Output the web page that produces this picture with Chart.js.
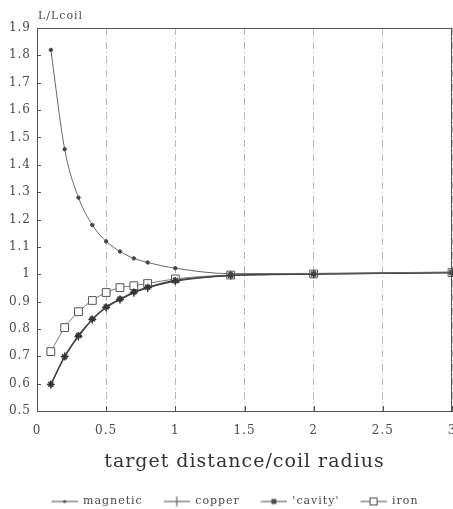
<!DOCTYPE html>
<html lang="en">
<head>
    <meta charset="UTF-8">
    <title>L/Lcoil vs target distance</title>
    <script src="https://cdn.jsdelivr.net/npm/chart.js"></script>
    <style>
        body { margin: 0; background: #ffffff; }
        .chart-box { width: 453px; height: 509px; }
    </style>
</head>
<body>
    <div class="chart-box"><canvas id="coilChart"></canvas></div>

    <script>
        // values
        const distances = [0.1, 0.2, 0.3, 0.4, 0.5, 0.6, 0.7, 0.8, 1.0, 1.4, 2, 3];
        const magnetic = [1.82, 1.457, 1.28, 1.18, 1.12, 1.083, 1.058, 1.043, 1.022, 1.002, 1.003, 1.008];
        const copper = [0.596, 0.700, 0.772, 0.834, 0.878, 0.907, 0.932, 0.950, 0.975, 0.995, 1.000, 1.006];
        const cavity = [0.598, 0.698, 0.776, 0.836, 0.880, 0.909, 0.935, 0.952, 0.977, 0.996, 1.001, 1.006];
        const iron = [0.717, 0.805, 0.863, 0.904, 0.933, 0.951, 0.958, 0.966, 0.983, 0.997, 1.001, 1.006];
        const seriesNames = ["magnetic", "copper", "'cavity'", "iron"];
        const xTicks = [0, 0.5, 1, 1.5, 2, 2.5, 3];

        const SERIF = "'DejaVu Serif', 'Liberation Serif', serif";
        const INK = "#4a4a4a";

        function pts(values) {
            return distances.map((d, i) => ({ x: d, y: values[i] }));
        }

        // legend icons: blank lead-in, then a short line with the marker in the middle
        const ICON_W = 44;
        function makeIcon(kind) {
            const c = document.createElement("canvas");
            c.width = ICON_W; c.height = 12;
            const g = c.getContext("2d");
            const x0 = ICON_W - 26, mid = x0 + 13;
            g.strokeStyle = INK; g.fillStyle = INK; g.lineWidth = 1;
            g.beginPath(); g.moveTo(x0, 6); g.lineTo(ICON_W, 6); g.stroke();
            if (kind === "dot") {
                g.beginPath(); g.arc(mid, 6, 1.6, 0, Math.PI * 2); g.fill();
            } else if (kind === "plus") {
                g.beginPath(); g.moveTo(mid, 1); g.lineTo(mid, 11); g.stroke();
            } else if (kind === "star") {
                g.fillRect(mid - 2.5, 3.5, 5, 5);
            } else if (kind === "square") {
                g.fillStyle = "#fff";
                g.fillRect(mid - 3.5, 2.5, 7, 7);
                g.strokeRect(mid - 3.5, 2.5, 7, 7);
            }
            return c;
        }
        const legendIcons = [makeIcon("dot"), makeIcon("plus"), makeIcon("star"), makeIcon("square")];

        // spaced-out lettering like the typewriter original
        const spacingPlugin = {
            id: "spacing",
            beforeUpdate(chart) { chart.ctx.letterSpacing = "1px"; },
            beforeDraw(chart) { chart.ctx.letterSpacing = "1px"; }
        };

        // frame, inward ticks and the y label above the axis
        const framePlugin = {
            id: "frame",
            afterDraw(chart) {
                const { ctx, chartArea: a, scales } = chart;
                ctx.save();
                ctx.strokeStyle = "#555";
                ctx.lineWidth = 1;
                ctx.strokeRect(a.left + 0.5, a.top + 0.5, a.right - a.left - 1, a.bottom - a.top);
                ctx.beginPath();
                xTicks.forEach(v => {
                    const px = Math.round(scales.x.getPixelForValue(v)) + 0.5;
                    ctx.moveTo(px, a.bottom); ctx.lineTo(px, a.bottom - 5);
                });
                scales.y.ticks.forEach(t => {
                    const py = Math.round(scales.y.getPixelForValue(t.value)) + 0.5;
                    ctx.moveTo(a.left, py); ctx.lineTo(a.left + 4, py);
                });
                ctx.stroke();
                ctx.fillStyle = INK;
                ctx.font = "11px " + SERIF;
                ctx.textBaseline = "alphabetic";
                ctx.fillText("L/Lcoil", a.left + 1, a.top - 9);
                ctx.restore();
            }
        };

        const ctx = document.getElementById("coilChart").getContext("2d");
        new Chart(ctx, {
            type: "line",
            data: {
                datasets: [
                    {
                        label: seriesNames[0],
                        data: pts(magnetic),
                        borderColor: "#666",
                        borderWidth: 1,
                        pointStyle: "circle",
                        pointRadius: 1.7,
                        pointBackgroundColor: "#444",
                        pointBorderColor: "#444",
                        cubicInterpolationMode: "monotone",
                        clip: false
                    },
                    {
                        label: seriesNames[1],
                        data: pts(copper),
                        borderColor: "#444",
                        borderWidth: 1.3,
                        pointStyle: "cross",
                        pointRadius: 4,
                        pointBorderColor: "#333",
                        pointBorderWidth: 1.2,
                        cubicInterpolationMode: "monotone",
                        clip: false
                    },
                    {
                        label: seriesNames[2],
                        data: pts(cavity),
                        borderColor: "#444",
                        borderWidth: 1.3,
                        pointStyle: "star",
                        pointRadius: 3.5,
                        pointBorderColor: "#333",
                        pointBorderWidth: 1.5,
                        cubicInterpolationMode: "monotone",
                        clip: false
                    },
                    {
                        label: seriesNames[3],
                        data: pts(iron),
                        borderColor: "#777",
                        borderWidth: 1,
                        pointStyle: "rect",
                        pointRadius: 5.5,
                        pointBackgroundColor: "#fff",
                        pointBorderColor: "#555",
                        pointBorderWidth: 1,
                        cubicInterpolationMode: "monotone",
                        clip: false
                    }
                ]
            },
            options: {
                responsive: true,
                maintainAspectRatio: false,
                animation: false,
                layout: { autoPadding: false, padding: { top: 28, right: 1, left: 0, bottom: -8 } },
                plugins: {
                    tooltip: { enabled: false },
                    legend: {
                        position: "bottom",
                        labels: {
                            usePointStyle: true,
                            pointStyleWidth: ICON_W,
                            padding: 3,
                            color: INK,
                            font: { family: SERIF, size: 11 },
                            generateLabels(chart) {
                                const items = Chart.defaults.plugins.legend.labels.generateLabels(chart);
                                items.forEach((it, i) => { it.pointStyle = legendIcons[i]; });
                                return items;
                            }
                        }
                    }
                },
                scales: {
                    x: {
                        type: "linear",
                        min: 0,
                        max: 3,
                        afterBuildTicks(s) { s.ticks = xTicks.map(v => ({ value: v })); },
                        afterFit(s) {
                            s.height = 82;
                            s.paddingLeft = 0;
                            s.paddingRight = 0;
                        },
                        ticks: {
                            color: INK,
                            font: { family: SERIF, size: 12 },
                            padding: 13,
                            maxRotation: 0,
                            callback: v => String(v)
                        },
                        grid: { color: "rgba(0,0,0,0.28)", drawTicks: false, lineWidth: 1 },
                        border: { display: true, color: "#555", dash: [7, 3, 1, 3] },
                        title: {
                            display: true,
                            text: "target distance/coil radius",
                            color: "#333",
                            font: { family: SERIF, size: 19 },
                            padding: { top: 10, bottom: 20 }
                        }
                    },
                    y: {
                        min: 0.5,
                        max: 1.9,
                        afterFit(s) { s.width = 37; },
                        ticks: {
                            stepSize: 0.1,
                            color: INK,
                            font: { family: SERIF, size: 12 },
                            padding: 6,
                            callback: v => String(Math.round(v * 10) / 10)
                        },
                        grid: { display: false, drawTicks: false },
                        border: { display: true, color: "#555" }
                    }
                }
            },
            plugins: [spacingPlugin, framePlugin]
        });
    </script>
</body>
</html>
